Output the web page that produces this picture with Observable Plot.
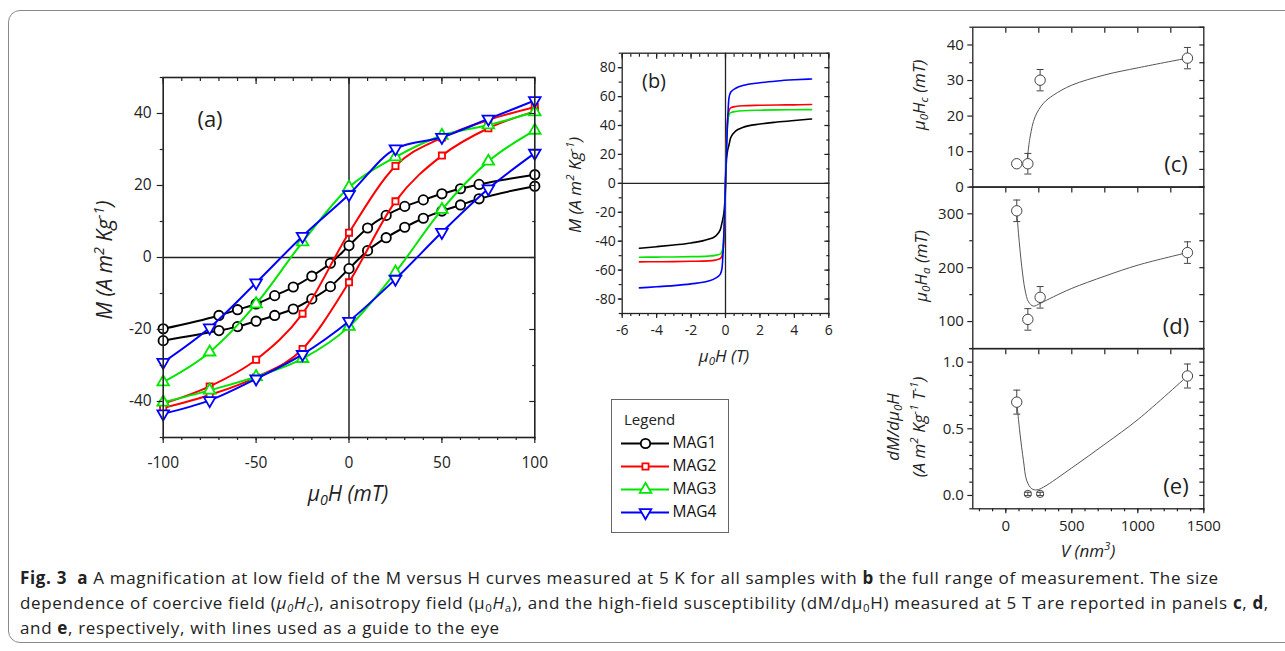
<!DOCTYPE html>
<html><head><meta charset="utf-8">
<script src="https://cdn.jsdelivr.net/npm/d3@7"></script>
<script src="https://cdn.jsdelivr.net/npm/@observablehq/plot@0.6"></script>
<style>
body{margin:0;background:#fff;}
#fig{position:relative;width:1285px;height:651px;overflow:hidden;background:#fff;font-family:"Open Sans",sans-serif;color:#222;}
#fig svg{position:absolute;}
.box{position:absolute;left:8px;top:10px;width:1300px;height:631px;border:1px solid #8a8a8a;border-radius:12px;}
.lab{position:absolute;transform:translate(-50%,-50%);white-space:nowrap;line-height:1;}
.rot{position:absolute;transform:translate(-50%,-50%) rotate(-90deg);white-space:nowrap;font-style:italic;line-height:1;}
.it{font-style:italic;}
sub{font-size:0.68em;vertical-align:-0.3em;line-height:0;}
sup{font-size:0.68em;vertical-align:0.55em;line-height:0;}
#legend{position:absolute;left:611px;top:399px;width:116px;height:132px;border:1px solid #666;background:#fff;}
#legend .t{position:absolute;left:12px;top:9px;font-size:15px;}
#caption{position:absolute;left:20px;top:565px;font-size:17px;letter-spacing:0.66px;line-height:25px;white-space:nowrap;color:#222;}
#caption b{font-weight:700;}
</style></head>
<body><div id="fig">
<div class="box"></div>
</div>
<script>
// ---------- Panel (a): low-field loops ----------
const samples = ["MAG1", "MAG2", "MAG3", "MAG4"];
const sampleColors = ["#000000", "#ff0000", "#00e600", "#0000ff"];
const fieldMag1 = [-100, -70, -60, -50, -40, -30, -20, -10, 0, 10, 20, 30, 40, 50, 60, 70, 100];
const mag1Desc = [-19.8, -16.1, -14.5, -12.9, -10.6, -8.2, -5.2, -1.6, 3.3, 8.2, 11.7, 14.2, 16.0, 17.7, 19.1, 20.3, 23.0];
const mag1Asc = [-23.1, -20.3, -19.2, -17.7, -16.1, -14.3, -11.5, -8.1, -3.1, 1.9, 5.5, 8.4, 10.9, 12.9, 14.6, 16.3, 19.8];
const fieldA = [-100, -75, -50, -25, 0, 25, 50, 75, 100];
const mag2Desc = [-40.6, -35.8, -28.4, -15.6, 6.9, 25.4, 33.3, 38.2, 41.8];
const mag2Asc = [-41.8, -38.2, -33.3, -25.4, -6.9, 15.6, 28.3, 35.9, 40.6];
const mag3Desc = [-34.6, -26.3, -12.9, 4.3, 19.5, 27.9, 33.9, 36.8, 40.4];
const mag3Asc = [-40.2, -36.9, -33.1, -28.1, -19.2, -4.1, 13.3, 26.7, 35.3];
const mag4Desc = [-29.1, -19.5, -7.0, 5.9, 17.5, 30.2, 33.4, 38.5, 43.6];
const mag4Asc = [-43.4, -39.7, -33.7, -26.9, -17.7, -6.0, 7.0, 19.1, 29.0];
const ticksAMajorX = [-100, -50, 0, 50, 100];
const ticksAMinorX = d3.range(-100, 101, 10);
const ticksAMajorY = [-40, -20, 0, 20, 40];
const ticksAMinorY = [-50, -30, -10, 10, 30, 50];

// ---------- Panel (b): full range ----------
const fieldB = [-5, -4, -3, -2, -1, -0.6, -0.3, -0.2, -0.1, -0.05, 0, 0.05, 0.1, 0.2, 0.3, 0.6, 1, 2, 3, 4, 5];
const mag1B = [-44.9, -43.8, -42.6, -41.2, -38.7, -36.6, -32.0, -27.0, -21.0, -15.0, 0, 15.0, 21.0, 26.5, 31.5, 36.3, 38.6, 41.0, 42.4, 43.5, 44.5];
const mag2B = [-54.3, -54.2, -54.1, -53.9, -53.6, -53.1, -52.0, -50.0, -41.0, -30.0, 0, 30.0, 41.0, 50.0, 52.2, 53.2, 53.7, 54.0, 54.2, 54.3, 54.5];
const mag3B = [-51.1, -51.0, -50.9, -50.7, -50.3, -49.8, -48.8, -47.0, -38.0, -23.0, 0, 23.0, 38.0, 47.0, 48.9, 49.7, 50.2, 50.6, 50.8, 50.9, 51.0];
const mag4B = [-72.3, -71.5, -70.7, -69.5, -67.6, -65.7, -62.8, -58.5, -36.0, -20.0, 0, 20.0, 36.0, 59.0, 63.0, 65.8, 67.6, 69.6, 70.8, 71.6, 72.2];
const ticksBMajorX = [-6, -4, -2, 0, 2, 4, 6];
const ticksBMinorX = d3.range(-6, 6.01, 0.5);
const ticksBMajorY = [-80, -60, -40, -20, 0, 20, 40, 60, 80];
const ticksBMinorY = d3.range(-90, 91, 10);

// ---------- Panels (c)-(e): size dependence ----------
const volume = [83, 167, 260, 1376];
const coercive = [6.6, 6.6, 30.1, 36.3];
const coerciveErr = [0, 2.9, 3.0, 3.0];
const anisotropy = [305.6, 104, 145, 228];
const anisotropyErr = [20, 20, 20, 20];
const suscept = [0.70, 0.012, 0.012, 0.896];
const susceptErr = [0.09, 0.012, 0.012, 0.09];
const guideVc = [159, 184, 222, 285, 361, 500, 752, 1004, 1376];
const guideHc = [6.6, 14.1, 19.8, 23.6, 25.9, 28.7, 31.6, 33.6, 36.3];
const guideVd = [83, 96, 121, 146, 172, 209, 260, 361, 500, 752, 1004, 1376];
const guideHa = [305.6, 264, 202, 158.5, 136.7, 128.7, 133.7, 146, 161.6, 184.5, 205, 228];
const guideVe = [83, 108, 134, 159, 197, 235, 285, 500, 752, 1004, 1376];
const guideSe = [0.70, 0.46, 0.26, 0.11, 0.05, 0.042, 0.062, 0.207, 0.386, 0.572, 0.896];
const ticksVMajor = [0, 500, 1000, 1500];
const ticksVMinor = d3.range(-200, 1501, 100);
const ticksVTop = [0, 250, 500, 750, 1000, 1250];

// ---------- build tables ----------
const loopA = [];
function addBranch(sample, branch, H, M) { H.forEach((h, i) => loopA.push({sample, branch: sample + branch, H: h, M: M[i]})); }
addBranch("MAG1", "d", fieldMag1, mag1Desc); addBranch("MAG1", "a", fieldMag1, mag1Asc);
addBranch("MAG2", "d", fieldA, mag2Desc); addBranch("MAG2", "a", fieldA, mag2Asc);
addBranch("MAG3", "d", fieldA, mag3Desc); addBranch("MAG3", "a", fieldA, mag3Asc);
addBranch("MAG4", "d", fieldA, mag4Desc); addBranch("MAG4", "a", fieldA, mag4Asc);
const fullB = [];
[mag1B, mag2B, mag3B, mag4B].forEach((arr, k) => fieldB.forEach((h, i) => fullB.push({sample: samples[k], H: h, M: arr[i]})));
const rowsC = volume.map((v, i) => ({V: v, val: coercive[i], err: coerciveErr[i]}));
const rowsD = volume.map((v, i) => ({V: v, val: anisotropy[i], err: anisotropyErr[i]}));
const rowsE = volume.map((v, i) => ({V: v, val: suscept[i], err: susceptErr[i]}));
const lineC = guideVc.map((v, i) => ({V: v, val: guideHc[i]}));
const lineD = guideVd.map((v, i) => ({V: v, val: guideHa[i]}));
const lineE = guideVe.map((v, i) => ({V: v, val: guideSe[i]}));

const fig = document.getElementById("fig");
const ink = "#222";
function place(svg, left, top) { svg.style.left = left + "px"; svg.style.top = top + "px"; fig.appendChild(svg); }
function tk(dir, anchor, ticks, size) {
  const f = dir === "x" ? Plot.axisX : Plot.axisY;
  return f({anchor, ticks, tickSize: size, fill: "none", stroke: ink, strokeWidth: 1.2, label: null});
}
function lbl(dir, anchor, ticks, pad, fmt, fs) {
  const f = dir === "x" ? Plot.axisX : Plot.axisY;
  return f({anchor, ticks, tickSize: 0, tickPadding: pad, tickFormat: fmt, label: null, fontSize: fs, fill: ink});
}
const str = d => String(d);
const capSymbol = {draw(ctx) { ctx.moveTo(-3.5, 0); ctx.lineTo(3.5, 0); }};
const markerSymbols = {MAG1: "circle", MAG2: "square", MAG3: "triangle", MAG4: "triangle"};
const markerR = {MAG1: 4.7, MAG2: 3.5, MAG3: 4.3, MAG4: 4.3};

// ---------- Panel (a) ----------
const marksA = [
  Plot.ruleX([0], {stroke: ink, strokeWidth: 1.5}),
  Plot.ruleY([0], {stroke: ink, strokeWidth: 1.5})
];
samples.forEach((s, k) => {
  const rows = loopA.filter(d => d.sample === s);
  marksA.push(Plot.line(rows, {x: "H", y: "M", z: "branch", stroke: sampleColors[k], strokeWidth: 2, curve: "monotone-x", clip: true}));
  marksA.push(Plot.dot(rows, {x: "H", y: "M", symbol: markerSymbols[s], r: markerR[s], stroke: sampleColors[k], fill: "white", strokeWidth: 1.8, rotate: s === "MAG4" ? 180 : 0}));
});
marksA.push(
  Plot.frame({stroke: ink, strokeWidth: 1.6}),
  tk("x", "bottom", ticksAMajorX, 6), tk("x", "bottom", ticksAMinorX, 3),
  tk("x", "top", ticksAMajorX, -6), tk("x", "top", ticksAMinorX, -3),
  tk("y", "left", ticksAMajorY, 6), tk("y", "left", ticksAMinorY, 3),
  tk("y", "right", ticksAMajorY, -6), tk("y", "right", ticksAMinorY, -3),
  lbl("x", "bottom", ticksAMajorX, 19, str, 15.5),
  lbl("y", "left", ticksAMajorY, 11.5, str, 15.5)
);
place(Plot.plot({
  width: 530, height: 500, marginLeft: 122.7, marginRight: 35.7, marginTop: 37, marginBottom: 103,
  x: {domain: [-100, 100], label: null}, y: {domain: [-50, 50], label: null},
  style: {background: "transparent", overflow: "visible", fontFamily: "Open Sans"},
  marks: marksA
}), 40, 40);

// ---------- Panel (b) ----------
place(Plot.plot({
  width: 290, height: 380, marginLeft: 61.7, marginRight: 21.7, marginTop: 32.7, marginBottom: 87,
  x: {domain: [-6, 6], label: null}, y: {domain: [-90, 90], label: null},
  color: {domain: samples, range: sampleColors},
  style: {background: "transparent", overflow: "visible", fontFamily: "Open Sans"},
  marks: [
    Plot.ruleX([0], {stroke: ink, strokeWidth: 1.3}),
    Plot.ruleY([0], {stroke: ink, strokeWidth: 1.3}),
    Plot.line(fullB, {x: "H", y: "M", z: "sample", stroke: "sample", strokeWidth: 1.6, curve: "monotone-x"}),
    Plot.frame({stroke: ink, strokeWidth: 1.3}),
    tk("x", "bottom", ticksBMajorX, 5), tk("x", "bottom", ticksBMinorX, 3),
    tk("x", "top", ticksBMajorX, -5), tk("x", "top", ticksBMinorX, -3),
    tk("y", "left", ticksBMajorY, 4), tk("y", "left", ticksBMinorY, 3),
    tk("y", "right", ticksBMajorY, -5), tk("y", "right", ticksBMinorY, -3),
    lbl("x", "bottom", ticksBMajorX, 12, str, 14),
    lbl("y", "left", ticksBMajorY, 6.5, str, 14)
  ]
}), 560, 20);

// ---------- Panels (c), (d), (e) ----------
function sizePanel({rows, guide, domain, majorY, minorY, rightY, fmt, top, height, mt, mb, bottomAxis, small}) {
  const big = small ? rows.filter(d => d.err > 0.05) : rows;
  const tiny = small ? rows.filter(d => d.err <= 0.05) : [];
  const marks = [
    Plot.line(guide, {x: "V", y: "val", stroke: "#555", strokeWidth: 1, curve: "catmull-rom"}),
    Plot.ruleX(rows, {x: "V", y1: d => d.val - d.err, y2: d => d.val + d.err, stroke: "#444", strokeWidth: 1}),
    Plot.dot(rows, {x: "V", y: d => d.val - d.err, symbol: capSymbol, stroke: "#444", strokeWidth: 1}),
    Plot.dot(rows, {x: "V", y: d => d.val + d.err, symbol: capSymbol, stroke: "#444", strokeWidth: 1}),
    Plot.dot(big, {x: "V", y: "val", r: 5.2, fill: "white", stroke: "#444", strokeWidth: 1}),
    Plot.dot(tiny, {x: "V", y: "val", r: 3.6, fill: "none", stroke: "#444", strokeWidth: 1}),
    Plot.frame({stroke: ink, strokeWidth: 1.3}),
    tk("x", "top", ticksVTop, -5),
    tk("y", "left", majorY, 5), tk("y", "left", minorY, 3),
    tk("y", "right", rightY, -5),
    lbl("y", "left", majorY, 9, fmt, 15)
  ];
  if (bottomAxis) marks.push(
    tk("x", "bottom", ticksVMajor, 5), tk("x", "bottom", ticksVMinor, 3),
    lbl("x", "bottom", ticksVMajor, 11.5, str, 15)
  );
  place(Plot.plot({
    width: 330, height, marginLeft: 72.3, marginRight: 26.7, marginTop: mt, marginBottom: mb,
    x: {domain: [-250, 1500], label: null}, y: {domain, label: null},
    style: {background: "transparent", overflow: "visible", fontFamily: "Open Sans"},
    marks
  }), 900, top);
}
sizePanel({rows: rowsC, guide: lineC, domain: [0, 45], majorY: [0, 10, 20, 30, 40], minorY: [5, 15, 25, 35, 45],
  rightY: d3.range(0, 46, 5), fmt: str, top: 0, height: 190, mt: 26.7, mb: 3.3});
sizePanel({rows: rowsD, guide: lineD, domain: [50, 350], majorY: [100, 200, 300], minorY: [50, 150, 250, 350],
  rightY: d3.range(50, 351, 50), fmt: str, top: 183.3, height: 168.3, mt: 3.4, mb: 3.3});
sizePanel({rows: rowsE, guide: lineE, domain: [-0.1, 1.1], majorY: [0, 0.5, 1], minorY: [-0.1, 0.1, 0.2, 0.3, 0.4, 0.6, 0.7, 0.8, 0.9, 1.1],
  rightY: d3.range(-0.1, 1.11, 0.1).map(v => +v.toFixed(1)), fmt: d3.format(".1f"), top: 345, height: 200, mt: 3.3, mb: 36.7, bottomAxis: true, small: true});

// ---------- Legend ----------
const legend = document.createElement("div");
legend.id = "legend";
legend.innerHTML = '<div class="t">Legend</div>';
fig.appendChild(legend);
const legendPlot = Plot.plot({
  width: 112, height: 95, marginLeft: 0, marginRight: 64, marginTop: 12.7, marginBottom: 12.3,
  x: {domain: [0, 1], axis: null}, y: {type: "point", domain: samples, padding: 0, axis: null},
  style: {background: "transparent", overflow: "visible", fontFamily: "Open Sans"},
  marks: samples.map((s, k) => [
    Plot.ruleY([s], {x1: 0, x2: 1, stroke: sampleColors[k], strokeWidth: 2}),
    Plot.dot([s], {x: 0.5, y: d => d, symbol: markerSymbols[s], r: markerR[s], stroke: sampleColors[k], fill: "white", strokeWidth: 1.8, rotate: s === "MAG4" ? 180 : 0}),
    Plot.text([s], {x: 1, y: d => d, text: d => d, textAnchor: "start", dx: 3, fontSize: 15.5, fill: "#111"})
  ])
});
legendPlot.style.left = "9px"; legendPlot.style.top = "30px";
legend.appendChild(legendPlot);

// ---------- Text: panel letters, axis titles, caption ----------
const texts = [
  ['lab', 210, 118, 22, '(a)'], ['lab', 654, 81, 20, '(b)'],
  ['lab', 1176, 163, 22, '(c)'], ['lab', 1176, 325, 22, '(d)'], ['lab', 1176, 485, 22, '(e)'],
  ['rot', 104, 260, 21, 'M (A m<sup>2</sup> Kg<sup>-1</sup>)'],
  ['lab it', 348, 493, 21, '&mu;<sub>0</sub>H (mT)'],
  ['rot', 574, 185, 17, 'M (A m<sup>2</sup> Kg<sup>-1</sup>)'],
  ['lab it', 724, 355, 17, '&mu;<sub>0</sub>H (T)'],
  ['rot', 918, 95, 17, '&mu;<sub>0</sub>H<sub>c</sub> (mT)'],
  ['rot', 920, 266, 17, '&mu;<sub>0</sub>H<sub>a</sub> (mT)'],
  ['rot', 892, 427, 17, 'dM/d&mu;<sub>0</sub>H'],
  ['rot', 918, 427, 17, '(A m<sup>2</sup> Kg<sup>-1</sup> T<sup>-1</sup>)'],
  ['lab it', 1088, 550, 17, 'V (nm<sup>3</sup>)']
];
texts.forEach(([cls, x, y, fs, html]) => {
  const d = document.createElement("div");
  d.className = cls; d.style.left = x + "px"; d.style.top = y + "px"; d.style.fontSize = fs + "px";
  d.innerHTML = html; fig.appendChild(d);
});
const cap = document.createElement("div");
cap.id = "caption";
cap.innerHTML = '<b>Fig. 3</b>&nbsp; <b>a</b> A magnification at low field of the M versus H curves measured at 5 K for all samples with <b>b</b> the full range of measurement. The size<br>' +
  'dependence of coercive field (<i>&mu;<sub>0</sub>H<sub>C</sub></i>), anisotropy field (&mu;<sub>0</sub><i>H</i><sub>a</sub>), and the high-field susceptibility (dM/d&mu;<sub>0</sub>H) measured at 5 T are reported in panels <b>c</b>, <b>d</b>,<br>' +
  'and <b>e</b>, respectively, with lines used as a guide to the eye';
fig.appendChild(cap);
</script>
</body></html>
